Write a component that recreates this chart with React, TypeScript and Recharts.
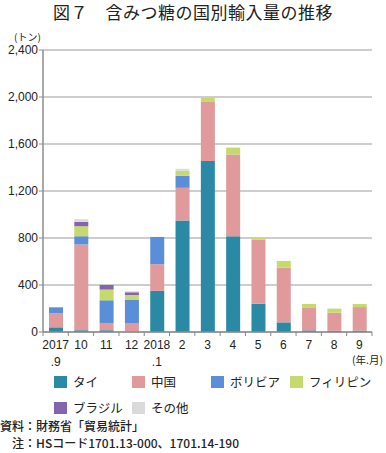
import React from 'react'
import { BarChart, Bar, XAxis, YAxis, CartesianGrid } from 'recharts'

const months = ['2017.9', '10', '11', '12', '2018.1', '2', '3', '4', '5', '6', '7', '8', '9']
const thai = [40, 15, 15, 5, 350, 950, 1455, 815, 240, 82, 14, 10, 12]
const china = [120, 730, 62, 68, 227, 277, 508, 696, 546, 466, 196, 155, 200]
const bolivia = [50, 70, 193, 200, 232, 102, 0, 0, 0, 0, 0, 0, 0]
const philippines = [0, 85, 91, 42, 0, 43, 29, 59, 14, 57, 29, 34, 26]
const brazil = [0, 37, 39, 23, 0, 0, 0, 0, 0, 0, 0, 0, 0]
const others = [0, 23, 0, 8, 0, 17, 0, 0, 0, 0, 0, 0, 0]
const yTicks = [0, 400, 800, 1200, 1600, 2000, 2400]

const series = [
  { key: 'thai', name: 'タイ', color: '#2A8AA5', values: thai },
  { key: 'china', name: '中国', color: '#E09A9B', values: china },
  { key: 'bolivia', name: 'ボリビア', color: '#5A8ED8', values: bolivia },
  { key: 'philippines', name: 'フィリピン', color: '#C6DA6C', values: philippines },
  { key: 'brazil', name: 'ブラジル', color: '#8464AE', values: brazil },
  { key: 'others', name: 'その他', color: '#DADADA', values: others },
]

const data = months.map((m, i) => {
  const row: Record<string, any> = { month: m }
  series.forEach(s => { row[s.key] = s.values[i] })
  return row
})

const FONT = '"Liberation Sans", Arial, "Noto Sans CJK JP", sans-serif'
const JP = '"Noto Sans CJK JP", sans-serif'
const STEP = (386 - 43 - 14) / months.length

const MonthTick = (props: any) => {
  const { x, y, payload, index } = props
  const [a, b] = String(payload.value).split('.')
  return (
    <g>
      <line x1={x - STEP / 2} x2={x - STEP / 2} y1={y - 8} y2={y - 4} stroke="#888" />
      {index === months.length - 1 && (
        <line x1={x + STEP / 2} x2={x + STEP / 2} y1={y - 8} y2={y - 4} stroke="#888" />
      )}
      <text x={x} y={y + 9} textAnchor="middle" fontSize={12} fill="#222" fontFamily={FONT}>{a}</text>
      {b && <text x={x} y={y + 26} textAnchor="middle" fontSize={12} fill="#222" fontFamily={FONT}>.{b}</text>}
    </g>
  )
}

const App: React.FC = () => {
  return (
    <div style={{ position: 'absolute', left: 0, top: 0, width: 386, height: 453, background: '#fff', fontFamily: JP, color: '#222' }}>
      <div style={{ position: 'absolute', top: 1, left: 0, width: 386, textAlign: 'center', fontSize: 17, lineHeight: '22px', letterSpacing: 0.5 }}>
        図７　含みつ糖の国別輸入量の推移
      </div>
      <div style={{ position: 'absolute', top: 30, left: 14, fontSize: 10, lineHeight: '14px', whiteSpace: 'nowrap' }}>(トン)</div>

      <BarChart width={386} height={370} data={data} margin={{ top: 50, right: 14, bottom: 0, left: 0 }} barSize={14}>
        <CartesianGrid vertical={false} stroke="#BDBDBD" strokeWidth={1.5} />
        <XAxis
          dataKey="month"
          height={38}
          interval={0}
          tick={<MonthTick />}
          tickLine={false}
          axisLine={{ stroke: '#8C8C8C', strokeWidth: 1.5 }}
        />
        <YAxis
          width={43}
          domain={[0, 2400]}
          ticks={yTicks}
          interval={0}
          tickFormatter={(v: number) => v.toLocaleString('en-US')}
          tick={{ fill: '#222', fontSize: 12, fontFamily: FONT }}
          tickSize={4}
          tickMargin={1}
          tickLine={{ stroke: '#8C8C8C' }}
          axisLine={{ stroke: '#8C8C8C', strokeWidth: 1.5 }}
        />
        {series.map(s => (
          <Bar key={s.key} dataKey={s.key} name={s.name} stackId="a" fill={s.color} isAnimationActive={false} />
        ))}
      </BarChart>

      <div style={{ position: 'absolute', top: 353, left: 352, fontSize: 10.5, lineHeight: '14px', whiteSpace: 'nowrap' }}>(年.月)</div>

      {series.map((s, i) => {
        const col = i % 4
        const row = Math.floor(i / 4)
        const lefts = [54, 132, 211, 290]
        return (
          <div key={s.key} style={{ position: 'absolute', left: lefts[col], top: 375 + row * 26, display: 'flex', alignItems: 'center', fontSize: 12.5, lineHeight: '13px', whiteSpace: 'nowrap' }}>
            <span style={{ display: 'inline-block', width: 13, height: 12, background: s.color, marginRight: 6 }} />
            <span>{s.name}</span>
          </div>
        )
      })}

      <div style={{ position: 'absolute', top: 418, left: 0, fontSize: 12, lineHeight: '16px', fontWeight: 500, whiteSpace: 'nowrap' }}>資料：財務省「貿易統計」</div>
      <div style={{ position: 'absolute', top: 435, left: 12, fontSize: 12, lineHeight: '16px', fontWeight: 500, whiteSpace: 'nowrap' }}>注：HSコード1701.13-000、1701.14-190</div>
    </div>
  )
}

export default App
